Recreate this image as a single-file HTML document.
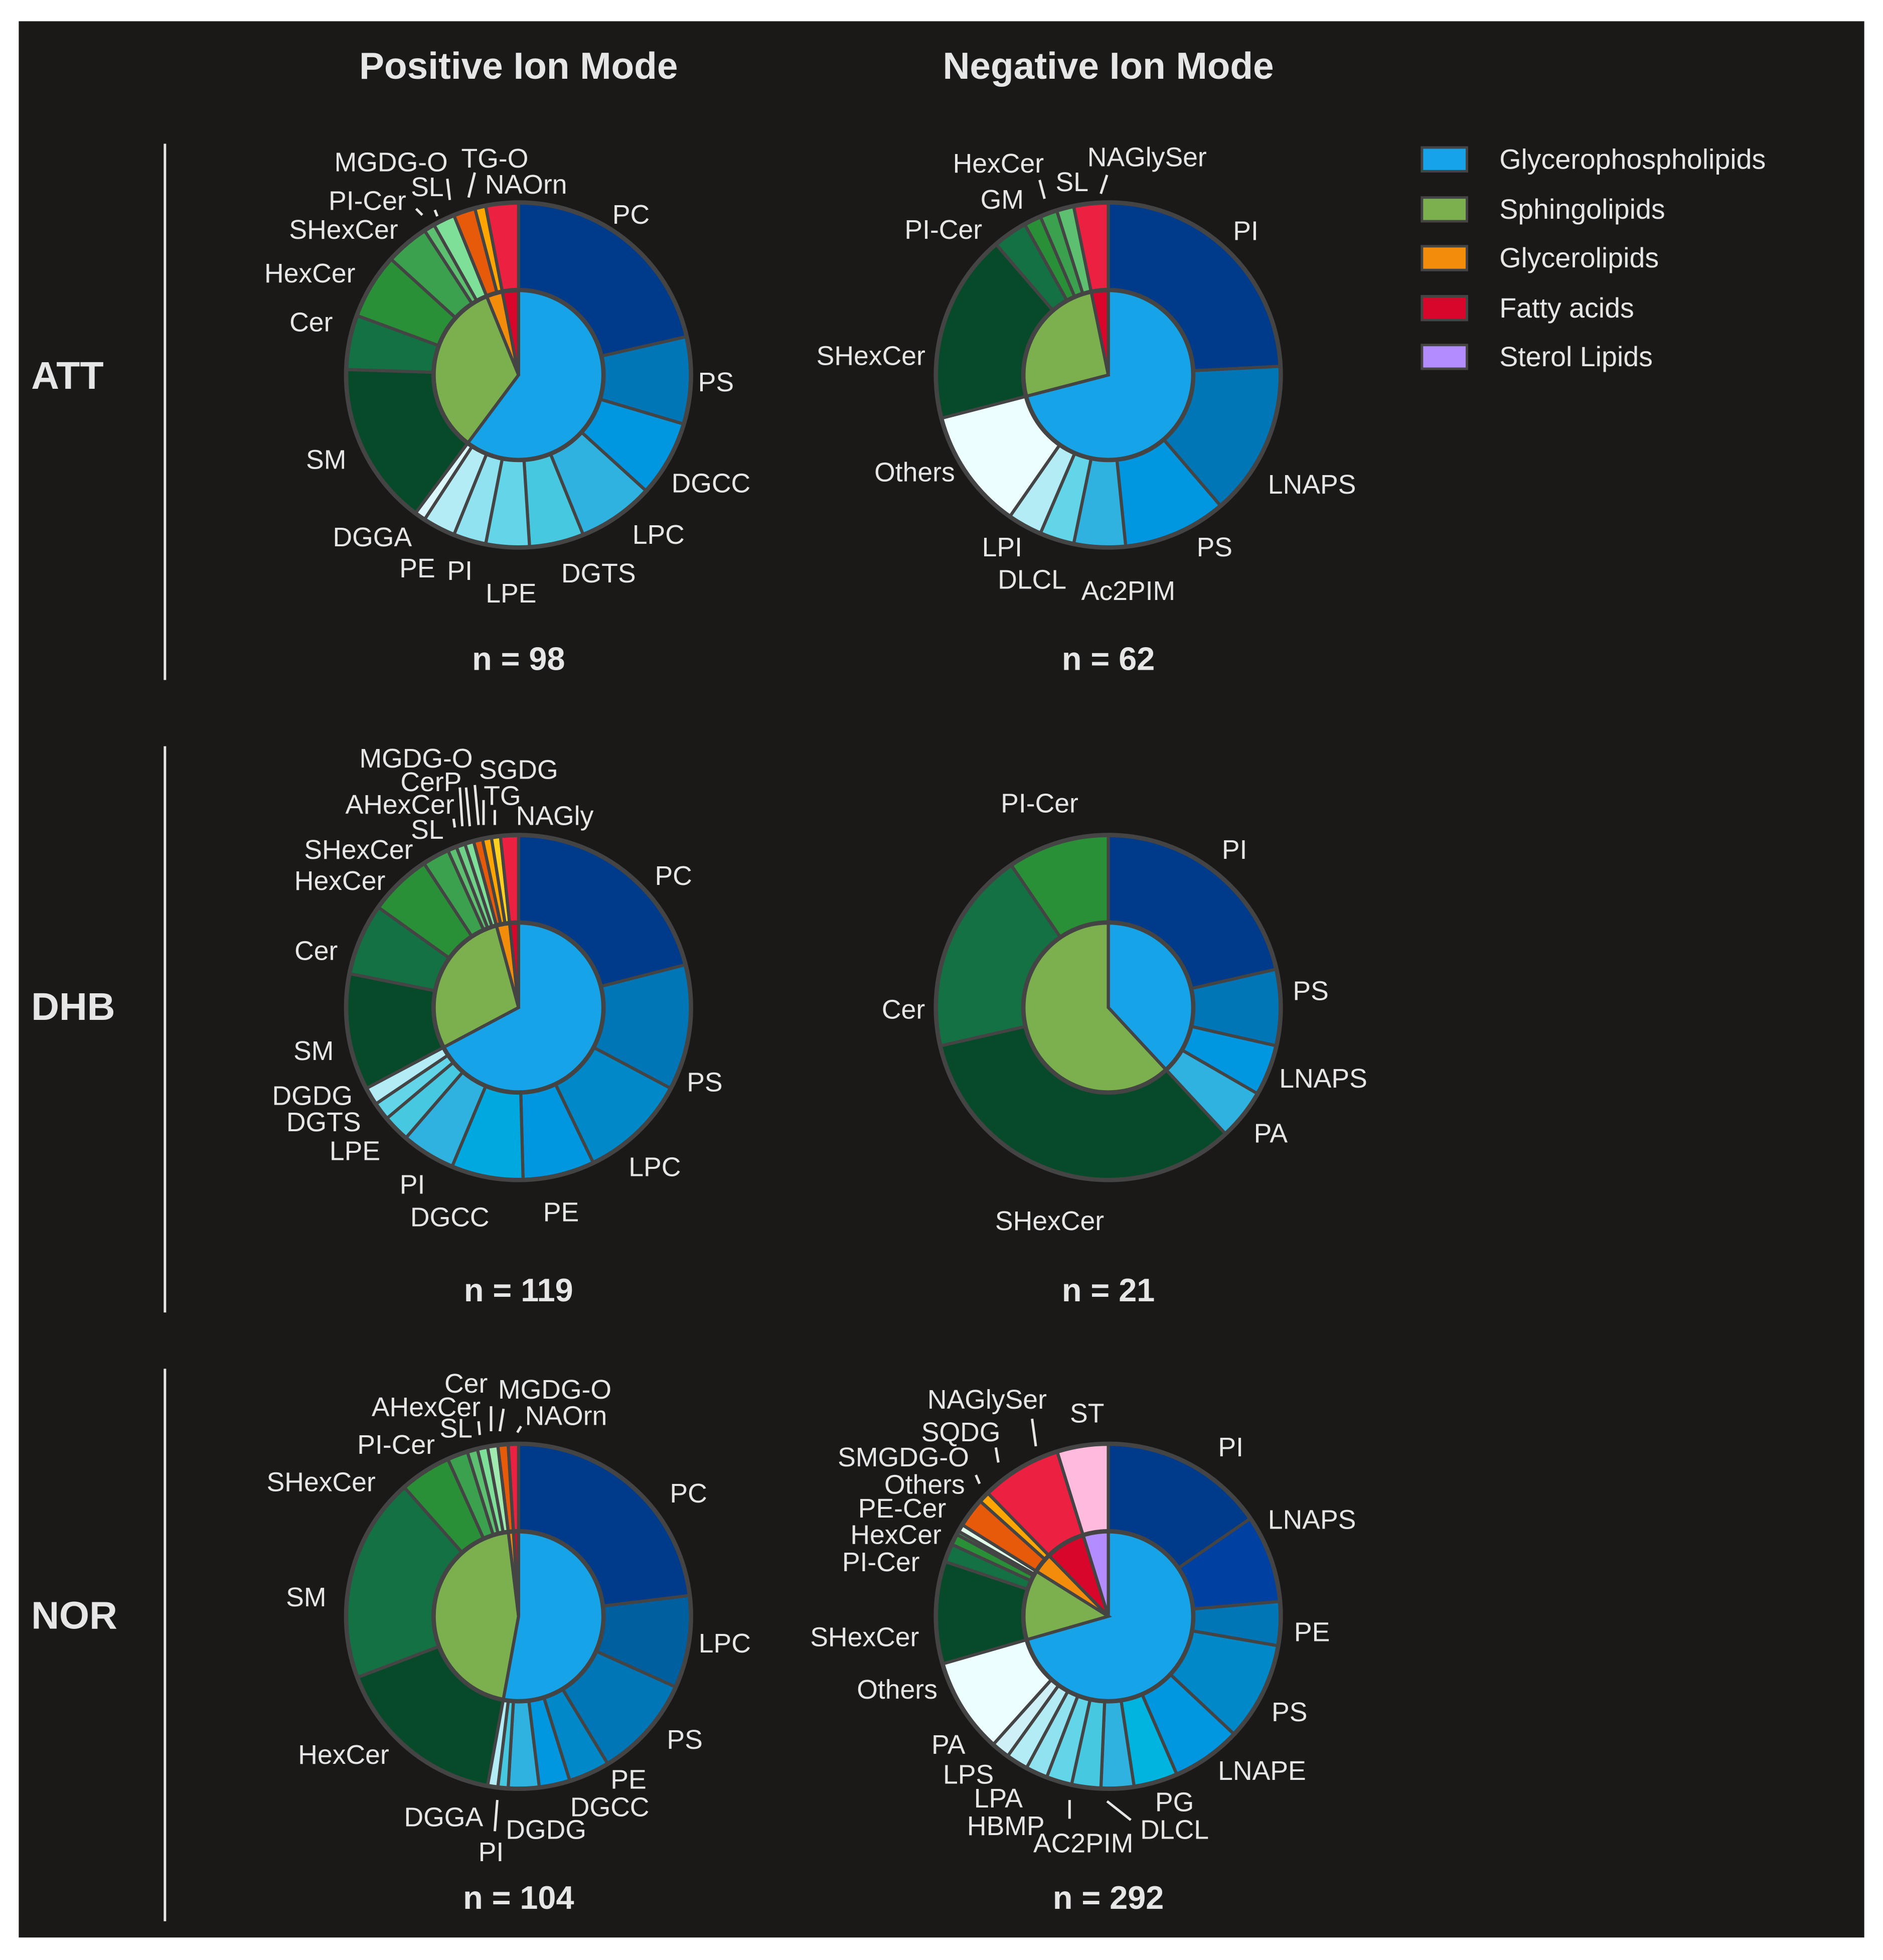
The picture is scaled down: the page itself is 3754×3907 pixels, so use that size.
<!DOCTYPE html>
<html><head><meta charset="utf-8"><style>
html,body{margin:0;padding:0;background:#fff;}
svg{display:block;}
text{font-family:"Liberation Sans",sans-serif;fill:#e6e6e6;}
.lb{font-size:21.5px;text-anchor:middle;}
.ttl{font-size:30px;font-weight:bold;text-anchor:middle;}
.n{font-size:26px;font-weight:bold;text-anchor:middle;}
.row{font-size:31px;font-weight:bold;}
.lg{font-size:22.3px;}
.ld{stroke:#e6e6e6;stroke-width:2;}
</style></head><body>
<svg id="fig" width="3754" height="3907" viewBox="0 0 1507 1568" preserveAspectRatio="none" xmlns="http://www.w3.org/2000/svg">
<rect x="0" y="0" width="1507" height="1568" fill="#ffffff"/>
<rect x="15" y="17" width="1477" height="1533" fill="#1a1918"/>
<text class="ttl" x="415" y="63">Positive Ion Mode</text>
<text class="ttl" x="887" y="63">Negative Ion Mode</text>
<text class="row" x="25" y="311">ATT</text>
<text class="row" x="25" y="816">DHB</text>
<text class="row" x="25" y="1303">NOR</text>
<line x1="132" y1="115" x2="132" y2="544" stroke="#e6e6e6" stroke-width="2"/>
<line x1="132" y1="597" x2="132" y2="1050" stroke="#e6e6e6" stroke-width="2"/>
<line x1="132" y1="1095" x2="132" y2="1537" stroke="#e6e6e6" stroke-width="2"/>
<text class="n" x="415" y="536">n = 98</text>
<text class="n" x="887" y="536">n = 62</text>
<text class="n" x="415" y="1041">n = 119</text>
<text class="n" x="887" y="1041">n = 21</text>
<text class="n" x="415" y="1527">n = 104</text>
<text class="n" x="887" y="1527">n = 292</text>
<g id="pies"></g>
<g id="legend">
<rect x="1138" y="118" width="36" height="19" fill="#17a3e8" stroke="#444" stroke-width="2"/>
<text class="lg" x="1200" y="135">Glycerophospholipids</text>
<rect x="1138" y="158" width="36" height="19" fill="#7cb04f" stroke="#444" stroke-width="2"/>
<text class="lg" x="1200" y="175">Sphingolipids</text>
<rect x="1138" y="197" width="36" height="19" fill="#f28c0a" stroke="#444" stroke-width="2"/>
<text class="lg" x="1200" y="214">Glycerolipids</text>
<rect x="1138" y="237" width="36" height="19" fill="#d9062b" stroke="#444" stroke-width="2"/>
<text class="lg" x="1200" y="254">Fatty acids</text>
<rect x="1138" y="276" width="36" height="19" fill="#b38cff" stroke="#444" stroke-width="2"/>
<text class="lg" x="1200" y="293">Sterol Lipids</text>
</g>
<g id="labels">
<text class="lb" x="505" y="179">PC</text><text class="lb" x="573" y="313">PS</text><text class="lb" x="569" y="394">DGCC</text><text class="lb" x="527" y="435">LPC</text><text class="lb" x="479" y="466">DGTS</text><text class="lb" x="409" y="482">LPE</text><text class="lb" x="368" y="464">PI</text><text class="lb" x="334" y="462">PE</text><text class="lb" x="298" y="437">DGGA</text><text class="lb" x="261" y="375">SM</text><text class="lb" x="249" y="265">Cer</text><text class="lb" x="248" y="226">HexCer</text><text class="lb" x="275" y="191">SHexCer</text><text class="lb" x="294" y="168">PI-Cer</text><text class="lb" x="342" y="157">SL</text><text class="lb" x="313" y="137">MGDG-O</text><text class="lb" x="396" y="134">TG-O</text><text class="lb" x="421" y="155">NAOrn</text>
<line class="ld" x1="333" y1="167" x2="338" y2="172"/><line class="ld" x1="348" y1="168" x2="350" y2="173"/><line class="ld" x1="358" y1="143" x2="360" y2="160"/><line class="ld" x1="380" y1="138" x2="375" y2="158"/>
<text class="lb" x="997" y="192">PI</text><text class="lb" x="1050" y="395">LNAPS</text><text class="lb" x="972" y="445">PS</text><text class="lb" x="903" y="480">Ac2PIM</text><text class="lb" x="826" y="471">DLCL</text><text class="lb" x="802" y="445">LPI</text><text class="lb" x="732" y="385">Others</text><text class="lb" x="697" y="292">SHexCer</text><text class="lb" x="755" y="191">PI-Cer</text><text class="lb" x="802" y="167">GM</text><text class="lb" x="799" y="138">HexCer</text><text class="lb" x="858" y="153">SL</text><text class="lb" x="918" y="133">NAGlySer</text>
<line class="ld" x1="832" y1="144" x2="836" y2="159"/><line class="ld" x1="886" y1="140" x2="881" y2="155"/>
<text class="lb" x="539" y="708">PC</text><text class="lb" x="564" y="873">PS</text><text class="lb" x="524" y="941">LPC</text><text class="lb" x="449" y="977">PE</text><text class="lb" x="360" y="981">DGCC</text><text class="lb" x="330" y="955">PI</text><text class="lb" x="284" y="928">LPE</text><text class="lb" x="259" y="905">DGTS</text><text class="lb" x="250" y="884">DGDG</text><text class="lb" x="251" y="848">SM</text><text class="lb" x="253" y="768">Cer</text><text class="lb" x="272" y="712">HexCer</text><text class="lb" x="287" y="687">SHexCer</text><text class="lb" x="342" y="671">SL</text><text class="lb" x="320" y="651">AHexCer</text><text class="lb" x="345" y="633">CerP</text><text class="lb" x="333" y="614">MGDG-O</text><text class="lb" x="415" y="623">SGDG</text><text class="lb" x="402" y="644">TG</text><text class="lb" x="444" y="660">NAGly</text>
<line class="ld" x1="363" y1="655" x2="364" y2="662"/><line class="ld" x1="368" y1="630" x2="370" y2="661"/><line class="ld" x1="373" y1="630" x2="376" y2="661"/><line class="ld" x1="380" y1="628" x2="383" y2="660"/><line class="ld" x1="387" y1="640" x2="387" y2="660"/><line class="ld" x1="396" y1="648" x2="396" y2="660"/>
<text class="lb" x="988" y="687">PI</text><text class="lb" x="1049" y="800">PS</text><text class="lb" x="1059" y="870">LNAPS</text><text class="lb" x="1017" y="914">PA</text><text class="lb" x="840" y="984">SHexCer</text><text class="lb" x="723" y="815">Cer</text><text class="lb" x="832" y="650">PI-Cer</text>
<text class="lb" x="551" y="1202">PC</text><text class="lb" x="580" y="1322">LPC</text><text class="lb" x="548" y="1399">PS</text><text class="lb" x="503" y="1431">PE</text><text class="lb" x="488" y="1453">DGCC</text><text class="lb" x="437" y="1471">DGDG</text><text class="lb" x="393" y="1489">PI</text><text class="lb" x="355" y="1461">DGGA</text><text class="lb" x="275" y="1411">HexCer</text><text class="lb" x="245" y="1285">SM</text><text class="lb" x="257" y="1193">SHexCer</text><text class="lb" x="317" y="1163">PI-Cer</text><text class="lb" x="365" y="1150">SL</text><text class="lb" x="341" y="1133">AHexCer</text><text class="lb" x="373" y="1114">Cer</text><text class="lb" x="444" y="1119">MGDG-O</text><text class="lb" x="453" y="1140">NAOrn</text>
<line class="ld" x1="398" y1="1440" x2="396" y2="1465"/><line class="ld" x1="383" y1="1137" x2="384" y2="1148"/><line class="ld" x1="393" y1="1125" x2="393" y2="1145"/><line class="ld" x1="403" y1="1127" x2="400" y2="1145"/><line class="ld" x1="417" y1="1141" x2="414" y2="1146"/>
<text class="lb" x="985" y="1165">PI</text><text class="lb" x="1050" y="1223">LNAPS</text><text class="lb" x="1050" y="1313">PE</text><text class="lb" x="1032" y="1377">PS</text><text class="lb" x="1010" y="1424">LNAPE</text><text class="lb" x="940" y="1449">PG</text><text class="lb" x="940" y="1471">DLCL</text><text class="lb" x="867" y="1482">AC2PIM</text><text class="lb" x="805" y="1468">HBMP</text><text class="lb" x="799" y="1446">LPA</text><text class="lb" x="775" y="1427">LPS</text><text class="lb" x="759" y="1403">PA</text><text class="lb" x="718" y="1359">Others</text><text class="lb" x="692" y="1317">SHexCer</text><text class="lb" x="705" y="1257">PI-Cer</text><text class="lb" x="717" y="1235">HexCer</text><text class="lb" x="722" y="1214">PE-Cer</text><text class="lb" x="740" y="1195">Others</text><text class="lb" x="723" y="1173">SMGDG-O</text><text class="lb" x="769" y="1153">SQDG</text><text class="lb" x="790" y="1127">NAGlySer</text><text class="lb" x="870" y="1138">ST</text>
<line class="ld" x1="856" y1="1440" x2="856" y2="1455"/><line class="ld" x1="886" y1="1441" x2="905" y2="1456"/><line class="ld" x1="826" y1="1135" x2="829" y2="1157"/><line class="ld" x1="797" y1="1158" x2="799" y2="1170"/><line class="ld" x1="781" y1="1180" x2="784" y2="1187"/>
</g>
</svg>
<script>
// class indices: 0 Glycerophospholipids, 1 Sphingolipids, 2 Glycerolipids, 3 Fatty acids, 4 Sterol lipids
const attPosNames = ["PC","PS","DGCC","LPC","DGTS","LPE","PI","PE","DGGA","SM","Cer","HexCer","SHexCer","PI-Cer","SL","MGDG-O","TG-O","NAOrn"];
const attPosValues = [21,8,7,7,5,4,3,3,1,15,5,6,4,1,2,2,1,3];
const attPosClasses = [0,0,0,0,0,0,0,0,0,1,1,1,1,1,1,2,2,3];

const attNegNames = ["PI","LNAPS","PS","Ac2PIM","DLCL","LPI","Others","SHexCer","PI-Cer","GM","HexCer","SL","NAGlySer"];
const attNegValues = [15,9,6,3,2,2,7,11,2,1,1,1,2];
const attNegClasses = [0,0,0,0,0,0,0,1,1,1,1,1,3];

const dhbPosNames = ["PC","PS","LPC","PE","DGCC","PI","LPE","DGTS","DGDG","SM","Cer","HexCer","SHexCer","SL","AHexCer","CerP","MGDG-O","SGDG","TG","NAGly"];
const dhbPosValues = [25,14,12,8,8,6,3,2,2,13,8,7,3,1,1,1,1,1,1,2];
const dhbPosClasses = [0,0,0,0,0,0,0,0,0,1,1,1,1,1,1,1,2,2,2,3];

const dhbNegNames = ["PI","PS","LNAPS","PA","SHexCer","Cer","PI-Cer"];
const dhbNegValues = [4.5,1.5,1,1,7,4,2];
const dhbNegClasses = [0,0,0,0,1,1,1];

const norPosNames = ["PC","LPC","PS","PE","DGCC","DGDG","PI","DGGA","HexCer","SM","SHexCer","PI-Cer","SL","AHexCer","Cer","MGDG-O","NAOrn"];
const norPosValues = [24,9,10,4,3,3,1,1,17,20,5,2,1,1,1,1,1];
const norPosClasses = [0,0,0,0,0,0,0,0,1,1,1,1,1,1,1,2,3];

const norNegNames = ["PI","LNAPS","PE","PS","LNAPE","PG","DLCL","AC2PIM","HBMP","LPA","LPS","PA","Others","SHexCer","PI-Cer","HexCer","PE-Cer","Others","SMGDG-O","SQDG","NAGlySer","ST"];
const norNegValues = [45,24,12,27,19,12,9,8,7,6,6,5,26,28,5,3,1,2,8,3,22,14];
const norNegClasses = [0,0,0,0,0,0,0,0,0,0,0,0,0,1,1,1,1,1,2,2,3,4];

const classColors = ["#17a3e8","#7cb04f","#f28c0a","#d9062b","#b38cff"];
const attPosColors = ["#003a8a","#0076b6","#0096e0","#2fb2e0","#46c8e0","#63d5e8","#90e2f0","#b4ecf6","#dcf7fc","#074a29","#137143","#2a9037","#3ba14e","#5cc070","#7ee098","#e65a0a","#ffa500","#ec2040"];
const attNegColors = ["#003a8a","#0076b6","#0096e0","#2fb2e0","#63d5e8","#b4ecf6","#ecfeff","#074a29","#137143","#2a9037","#3ba14e","#5cc070","#ec2040"];
const dhbPosColors = ["#003a8a","#0076b6","#0088c8","#0096e0","#00a8e0","#2fb2e0","#46c8e0","#63d5e8","#b4ecf6","#074a29","#137143","#2a9037","#3ba14e","#5cc070","#6fd088","#7ee098","#e65a0a","#ffa500","#ffd020","#ec2040"];
const dhbNegColors = ["#003a8a","#0076b6","#0096e0","#2fb2e0","#074a29","#137143","#2a9037"];
const norPosColors = ["#003a8a","#005f9e","#0076b6","#0088c8","#0096e0","#2fb2e0","#46c8e0","#b4ecf6","#074a29","#137143","#2a9037","#3ba14e","#5cc070","#7ee098","#a0eab0","#e65a0a","#ec2040"];
const norNegColors = ["#003a8a","#0040a0","#0076b6","#0088c8","#0096e0","#00b4e0","#2fb2e0","#46c8e0","#63d5e8","#90e2f0","#b4ecf6","#d0f0f8","#ecfeff","#074a29","#137143","#2a9037","#3ba14e","#e0ffe8","#e65a0a","#ffa500","#ec2040","#ffbbdd"];

const NS = "http://www.w3.org/2000/svg";
const R_OUT = 138, R_IN = 68;

function pt(cx, cy, r, a) { return [cx + r * Math.sin(a), cy - r * Math.cos(a)]; }
function arcPath(cx, cy, r0, r1, a0, a1) {
  const large = (a1 - a0) > Math.PI ? 1 : 0;
  const p1 = pt(cx, cy, r1, a0), p2 = pt(cx, cy, r1, a1);
  if (r0 <= 0) {
    return "M" + cx + "," + cy + "L" + p1[0] + "," + p1[1] + "A" + r1 + "," + r1 + " 0 " + large + " 1 " + p2[0] + "," + p2[1] + "Z";
  }
  const p3 = pt(cx, cy, r0, a1), p4 = pt(cx, cy, r0, a0);
  return "M" + p1[0] + "," + p1[1] + "A" + r1 + "," + r1 + " 0 " + large + " 1 " + p2[0] + "," + p2[1] +
    "L" + p3[0] + "," + p3[1] + "A" + r0 + "," + r0 + " 0 " + large + " 0 " + p4[0] + "," + p4[1] + "Z";
}

function drawPie(cx, cy, names, values, classes, colors, tag) {
  const root = document.getElementById("pies");
  const g = document.createElementNS(NS, "g");
  
  
  root.appendChild(g);
  const total = values.reduce((s, v) => s + v, 0);
  const scale = v => v / total * 2 * Math.PI;
  let a = 0;
  for (let i = 0; i < values.length; i++) {
    const a1 = a + scale(values[i]);
    const p = document.createElementNS(NS, "path");
    p.setAttribute("d", arcPath(cx, cy, R_IN, R_OUT, a, a1));
    p.setAttribute("fill", colors[i]);
    p.setAttribute("stroke", "#444");
    p.setAttribute("stroke-width", "2.5");
    
    
    g.appendChild(p);
    a = a1;
  }
  const order = [], sums = {};
  for (let i = 0; i < values.length; i++) {
    if (!(classes[i] in sums)) { order.push(classes[i]); sums[classes[i]] = 0; }
    sums[classes[i]] += values[i];
  }
  a = 0;
  for (const c of order) {
    const a1 = a + scale(sums[c]);
    const p = document.createElementNS(NS, "path");
    p.setAttribute("d", arcPath(cx, cy, 0, R_IN, a, a1));
    p.setAttribute("fill", classColors[c]);
    p.setAttribute("stroke", "#444");
    p.setAttribute("stroke-width", "2.5");
    
    
    g.appendChild(p);
    a = a1;
  }
  for (const r of [R_IN, R_OUT]) {
    const c = document.createElementNS(NS, "circle");
    c.setAttribute("cx", cx); c.setAttribute("cy", cy); c.setAttribute("r", r);
    c.setAttribute("fill", "none"); c.setAttribute("stroke", "#444"); c.setAttribute("stroke-width", "3.5");
    
    
    g.appendChild(c);
  }
}

drawPie(415, 300, attPosNames, attPosValues, attPosClasses, attPosColors, "att-pos");
drawPie(887, 300, attNegNames, attNegValues, attNegClasses, attNegColors, "att-neg");
drawPie(415, 806, dhbPosNames, dhbPosValues, dhbPosClasses, dhbPosColors, "dhb-pos");
drawPie(887, 806, dhbNegNames, dhbNegValues, dhbNegClasses, dhbNegColors, "dhb-neg");
drawPie(415, 1293, norPosNames, norPosValues, norPosClasses, norPosColors, "nor-pos");
drawPie(887, 1293, norNegNames, norNegValues, norNegClasses, norNegColors, "nor-neg");

document.querySelectorAll('#labels text').forEach(t => {
  
  
});
document.querySelectorAll('#labels line').forEach(l => {
  
  
});
</script>
</body></html>
